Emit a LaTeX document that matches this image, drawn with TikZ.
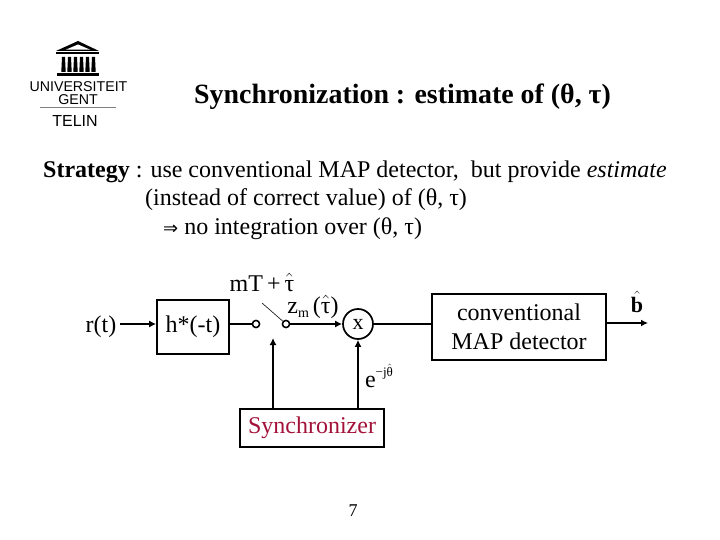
\documentclass[tikz,border=0pt]{standalone}
\usepackage{fontspec}
\setmainfont{Liberation Serif}
\newfontfamily\logofont{Liberation Sans}
\newfontfamily\symfont{DejaVu Sans}
\usetikzlibrary{arrows.meta}
\definecolor{synred}{HTML}{A3123A}
\tikzset{
  blockbox/.style={draw=black,line width=1.7pt,inner sep=0pt,font=\fontsize{24}{29}\selectfont,align=center},
  conn/.style={line width=1.7pt,-{Latex[length=7pt,width=7pt]}},
  plain/.style={line width=1.7pt},
  port/.style={circle,draw=black,line width=1.4pt,fill=white,minimum size=7pt,inner sep=0pt},
  txt/.style={inner sep=0pt,anchor=base west,font=\fontsize{24}{28}\selectfont},
  lab/.style={inner sep=0pt,font=\fontsize{24}{28}\selectfont},
  logotxt/.style={inner sep=0pt,font=\logofont\fontsize{14.2}{16}\selectfont}
}
\begin{document}
\begin{tikzpicture}[x=1pt,y=-1pt]
\useasboundingbox (0,0) rectangle (720,540);
% logo
\fill (78,41) -- (99,51) -- (56,51) -- cycle;
\fill[white] (78,44.5) -- (90,49.6) -- (66,49.6) -- cycle;
\fill (56,52.5) rectangle (99,54);
\foreach \cx in {63.5,69.5,75.5,81.5,87.5,93.5} \fill (\cx-1.5,57) -- (\cx+1.5,57) -- (\cx+2.2,72) -- (\cx-2.2,72) -- cycle;
\fill (57,73) rectangle (99,76);
\node[logotxt] (uni) at (78.5,86.5) {UNIVERSITEIT};
\node[logotxt] (gent) at (78,99.5) {GENT};
\draw[line width=0.5pt,gray] (40,107.5) -- (116,107.5);
\node[logotxt,font=\logofont\fontsize{16}{18}\selectfont] (telin) at (75,121) {TELIN};
% title
\node[inner sep=0pt,anchor=base west,font=\fontsize{27.9}{32}\selectfont\bfseries] (title) at (194,104) {Synchronization : estimate of (θ, τ)};
% strategy
\node[txt] (s1) at (43,178) {\textbf{Strategy} : use conventional MAP detector,~ but provide \textit{estimate}};
\node[txt] (s2) at (145,206) {(instead of correct value) of (θ, τ)};
\node[txt] (s3) at (163,235) {{\symfont\fontsize{18}{20}\selectfont ⇒}\ no integration over (θ, τ)};
% diagram
\node[lab] (r) at (101,327) {r(t)};
\node[blockbox,minimum width=72pt,minimum height=54pt] (h) at (193,327) {\raisebox{-2pt}{h*(-t)}};
\node[port] (p1) at (256,324) {};
\node[port] (p2) at (286,324) {};
\node[circle,draw=black,line width=1.7pt,minimum size=30pt,inner sep=0pt,font=\fontsize{22}{24}\selectfont] (mix) at (358,324) {\raisebox{-2pt}{x}};
\node[blockbox,minimum width=144pt,minimum height=38pt,text=synred] (sync) at (312,428) {\raisebox{-2pt}{Synchronizer}};
\node[blockbox,minimum width=174pt,minimum height=66pt] (map) at (519,327) {conventional\\MAP detector};
\coordinate (out) at (648,323);
\coordinate (swtop) at (262,303);
\coordinate (swin) at (273,338);
\draw[conn] (120,324) -- (h.west |- 120,324);
\draw[plain] (h.east |- p1) -- (p1);
\draw[line width=0.6pt] (swtop) -- (p2);
\draw[conn] (p2) -- (mix);
\draw[plain] (mix) -- (map.west |- mix);
\draw[conn] (map.east |- out) -- (out);
\draw[conn] (sync.north -| swin) -- (swin);
\draw[conn] (sync.north -| mix) -- (mix);
\node[port] at (p1) {};
\node[port] at (p2) {};
\node[lab,anchor=base] (ts) at (262,291) {mT\,+\,$\hat{\hbox{τ}}$};
\node[lab,anchor=base] (zm) at (313,313) {z\raisebox{-4pt}{\fontsize{14}{16}\selectfont m}\,($\hat{\hbox{τ}}$)};
\node[lab,anchor=base] (ej) at (379,387) {e\raisebox{11pt}{\fontsize{13}{15}\selectfont −j$\hat{\hbox{θ}}$}};
\node[lab,anchor=base,font=\fontsize{22}{25}\selectfont\bfseries] (bh) at (637,312) {$\hat{\hbox{b}}$};
\node[inner sep=0pt,font=\fontsize{18}{22}\selectfont] (page) at (353,511) {7};
\end{tikzpicture}
\end{document}
